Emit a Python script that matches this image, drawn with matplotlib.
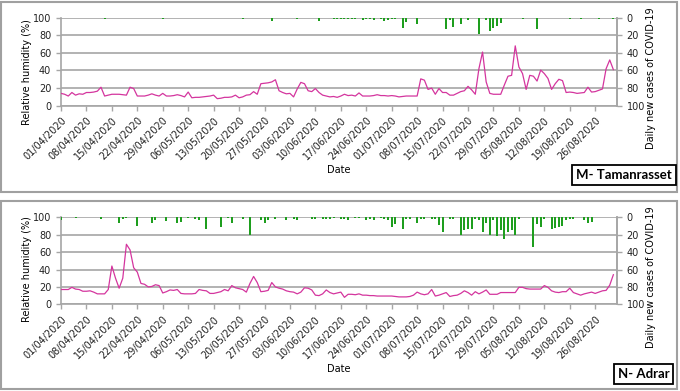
import numpy as np
import pandas as pd
import matplotlib
matplotlib.use("Agg")
import matplotlib.pyplot as plt
from matplotlib.patches import Rectangle

# Days from 01/04/2020 to 31/08/2020
dates = pd.date_range("2020-04-01", "2020-08-31", freq="D")

# M- Tamanrasset : relative humidity (%)
tam_rh = [
    14, 13, 11, 15, 12, 13.5, 13,
    15, 15, 15.5, 16.5, 21, 11, 12,
    13, 13, 13, 12.5, 12, 21, 19.5,
    11, 11, 11, 12, 13.5, 12, 11,
    14, 11, 11, 11.5, 12.5, 11.5, 10,
    15.5, 9, 9.5, 9.5, 10, 10.5, 11,
    12, 8, 8.5, 9.5, 9.5, 10, 12,
    9, 10, 12, 12.5, 16, 13, 25,
    25.5, 26, 27, 29.5, 17, 15, 13.5,
    14, 10, 19, 26.5, 25, 17, 16,
    19.5, 15, 12, 11, 10, 10.5, 9.5,
    11, 13, 11.5, 12, 11, 14.5, 11,
    11, 11, 11.5, 12.5, 11.5, 11.5, 11,
    11.5, 11, 10, 10.5, 11, 11, 11,
    11, 30.5, 29, 18.5, 20, 13, 19.5,
    15, 15, 12, 12, 14, 16, 17,
    22, 18, 13, 42, 61, 27, 14,
    13, 13, 13, 23.5, 33.5, 34.5, 68,
    44, 36.5, 18.5, 34.5, 33.5, 28, 40.5,
    36.5, 31, 18.5, 25, 30, 28.5, 15,
    15.5, 15, 14, 14.5, 15, 21, 15.5,
    16, 17.5, 19, 42, 52, 41,
]

# M- Tamanrasset : daily new cases
tam_cases = [
    0, 0, 0, 0, 0, 0, 0,
    0, 0, 0, 0, 0, 1, 0,
    0, 0, 0, 0, 0, 0, 0,
    0, 0, 0, 0, 0, 0, 0,
    1, 0, 0, 0, 0, 0, 0,
    0, 0, 0, 0, 0, 0, 0,
    0, 0, 0, 0, 0, 0, 0,
    0, 1, 0, 0, 0, 0, 0,
    0, 0, 4, 0, 0, 0, 0,
    0, 0, 2, 0, 0, 0, 0,
    0, 4, 0, 0, 0, 1, 2,
    2, 1, 1, 1, 2, 0, 3,
    1, 2, 3, 0, 1, 4, 3,
    2, 1, 0, 12, 5, 0, 0,
    7, 0, 0, 0, 0, 0, 0,
    0, 13, 3, 11, 0, 7, 0,
    3, 0, 0, 18, 0, 3, 15,
    12, 9, 6, 0, 0, 0, 0,
    0, 1, 0, 0, 0, 13, 0,
    0, 0, 0, 0, 0, 0, 0,
    1, 0, 0, 1, 0, 0, 0,
    0, 1, 0, 0, 0, 2,
]

# N- Adrar : relative humidity (%)
adr_rh = [
    17, 17, 17, 19.5, 17.5, 17, 15,
    15, 15.5, 14, 12, 12, 12, 17,
    44, 30, 18.5, 30, 69, 62.5, 42,
    37, 24, 23, 20, 20.5, 22.5, 21.5,
    13, 14.5, 16.5, 16, 17, 12.5, 12,
    12, 12, 12.5, 17, 16, 15.5, 12.5,
    12.5, 13.5, 14.5, 17, 15.5, 21.5, 19,
    18, 17, 14, 24, 32, 25, 14.5,
    15, 16, 25, 20, 18.5, 17.5, 15.5,
    14.5, 14, 12, 14, 19, 18.5, 16.5,
    10.5, 10, 12, 16.5, 13.5, 12, 13,
    14, 8, 11.5, 11.5, 11, 12, 10.5,
    10.5, 10, 10, 9.5, 9.5, 9.5, 9.5,
    9.5, 9, 8.5, 8.5, 8.5, 9, 10.5,
    14, 12, 11, 12, 17, 9.5, 10.5,
    12, 13.5, 9, 10, 10.5, 12.5, 15.5,
    13.5, 10.5, 14.5, 12, 14, 16.5, 11.5,
    11.5, 11.5, 13.5, 13.5, 13.5, 13.5, 13.5,
    19.5, 19.5, 18, 17.5, 17.5, 17.5, 17.5,
    21.5, 19.5, 15.5, 14, 13.5, 14.5, 14.5,
    18.5, 13.5, 12, 10.5, 12, 13, 14,
    12.5, 14, 15.5, 16, 22, 34,
]

# N- Adrar : daily new cases
adr_cases = [
    3, 0, 0, 0, 1, 0, 0,
    0, 0, 0, 0, 2, 0, 0,
    0, 0, 7, 2, 1, 0, 0,
    10, 0, 0, 0, 6, 3, 0,
    0, 4, 0, 0, 6, 5, 0,
    1, 0, 2, 3, 0, 13, 0,
    0, 0, 11, 0, 1, 6, 0,
    0, 2, 0, 20, 0, 0, 3,
    7, 3, 0, 2, 0, 0, 3,
    0, 2, 3, 0, 0, 0, 2,
    2, 0, 2, 2, 2, 1, 0,
    2, 2, 3, 0, 1, 1, 0,
    3, 2, 3, 0, 1, 2, 3,
    11, 8, 0, 13, 2, 2, 0,
    7, 2, 2, 0, 2, 2, 9,
    17, 0, 2, 2, 0, 20, 15,
    14, 13, 2, 3, 17, 7, 20,
    3, 22, 15, 25, 17, 15, 20,
    2, 0, 0, 0, 34, 8, 11,
    2, 0, 14, 12, 11, 10, 3,
    2, 2, 0, 0, 3, 6, 5,
    0, 0, 0, 0, 0, 0,
]

LINE_COLOR = "#d4359e"
BAR_COLOR = "#1e9e1e"
GRID_COLOR = "#a6a6a6"
FS = 7
W, H = 680.0, 391.0


def draw_panel(fig, rect, rh, cases, label_y):
    x = np.arange(len(dates))
    ax = fig.add_axes(rect)
    ax.plot(x, rh, color=LINE_COLOR, lw=0.9, zorder=3)
    ax.set_ylim(0, 100)
    ax.set_xlim(0, len(dates))
    ax.set_yticks(range(0, 101, 20))
    ax.yaxis.grid(True, color=GRID_COLOR, lw=1.2)
    ax.set_axisbelow(True)

    ax.set_xticks(x[::7])
    ax.set_xticklabels(dates[::7].strftime("%d/%m/%Y"), rotation=45,
                       ha="right", rotation_mode="anchor", fontsize=FS)
    ax.tick_params(axis="both", colors=GRID_COLOR, labelcolor="#222222",
                   labelsize=FS, length=3.5, width=1)
    ax.spines["top"].set_visible(False)
    for side in ["left", "bottom", "right"]:
        ax.spines[side].set_color(GRID_COLOR)
        ax.spines[side].set_linewidth(1.2)
    ax.set_xlabel("Date", fontsize=FS, labelpad=2)

    # cases on a reversed right axis, hanging from the top
    ax2 = ax.twinx()
    ax2.bar(x, cases, width=0.55, color=BAR_COLOR, zorder=2)
    ax2.set_ylim(100, 0)
    ax2.set_yticks(range(0, 101, 20))
    ax2.tick_params(axis="y", colors=GRID_COLOR, labelcolor="#222222",
                    labelsize=FS, length=3.5, width=1)
    for side in ["top", "left", "bottom"]:
        ax2.spines[side].set_visible(False)
    ax2.spines["right"].set_color(GRID_COLOR)
    ax2.spines["right"].set_linewidth(1.2)

    # axis titles placed as in the reference (a little below centre)
    fig.text(27 / W, 1 - label_y[0] / H, "Relative humidity (%)", fontsize=FS,
             rotation=90, ha="center", va="center")
    fig.text(651 / W, 1 - label_y[1] / H, "Daily new cases of COVID-19",
             fontsize=FS, rotation=90, ha="center", va="center")
    return ax, ax2


def main():
    fig = plt.figure(figsize=(6.8, 3.91), dpi=100)

    # grey frames around each panel
    for (x0, y0, x1, y1) in [(1, 2, 677, 192), (1, 201, 677, 389)]:
        fig.patches.append(Rectangle((x0 / W, 1 - y1 / H), (x1 - x0) / W,
                                     (y1 - y0) / H, transform=fig.transFigure,
                                     fill=False, ec="#a0a0a0", lw=1.5))

    draw_panel(fig, [61 / W, 1 - 105.7 / H, 556 / W, 88 / H],
               tam_rh, tam_cases, (72, 78))
    draw_panel(fig, [61 / W, 1 - 304.3 / H, 556 / W, 87 / H],
               adr_rh, adr_cases, (269, 277))

    box = dict(boxstyle="square,pad=0.3", fc="white", ec="black", lw=1.3)
    fig.text(624 / W, 1 - 175 / H, "M- Tamanrasset", fontsize=9.5,
             fontweight="bold", family="Lato", ha="center", va="center", bbox=box)
    fig.text(643.5 / W, 1 - 374 / H, "N- Adrar", fontsize=9.5,
             fontweight="bold", family="Lato", ha="center", va="center", bbox=box)

    fig.savefig("out.png", dpi=100)


if __name__ == "__main__":
    main()
